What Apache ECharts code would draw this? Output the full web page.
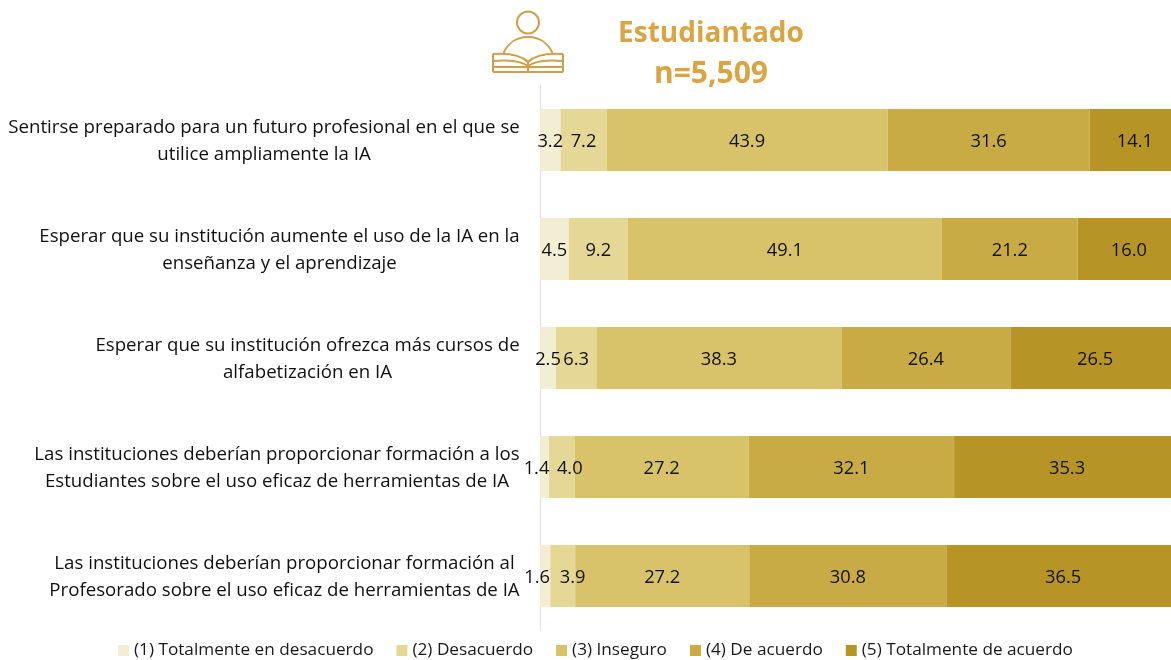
<!DOCTYPE html>
<html><head><meta charset="utf-8">
<style>html,body{margin:0;padding:0;background:#fff}#c{width:1171px;height:660px}</style>
<script src="https://cdn.jsdelivr.net/npm/echarts@6/dist/echarts.min.js"></script>
</head><body><div id="c"></div>
<script>
const categories = [
 "Sentirse preparado para un futuro profesional en el que se\nutilice ampliamente la IA",
 "Esperar que su institución aumente el uso de la IA en la\nenseñanza y el aprendizaje",
 "Esperar que su institución ofrezca más cursos de\nalfabetización en IA",
 "Las instituciones deberían proporcionar formación a los\nEstudiantes sobre el uso eficaz de herramientas de IA",
 "Las instituciones deberían proporcionar formación al\nProfesorado sobre el uso eficaz de herramientas de IA"
];
const seriesNames = ["(1) Totalmente en desacuerdo","(2) Desacuerdo","(3) Inseguro","(4) De acuerdo","(5) Totalmente de acuerdo"];
const s1 = [3.2,4.5,2.5,1.4,1.6];
const s2 = [7.2,9.2,6.3,4.0,3.9];
const s3 = [43.9,49.1,38.3,27.2,27.2];
const s4 = [31.6,21.2,26.4,32.1,30.8];
const s5 = [14.1,16.0,26.5,35.3,36.5];
const values = [s1,s2,s3,s4,s5];
const colors = ["#F2EED3","#E5D897","#D8C36B","#C8AB45","#B69526"];
const FONT = '"Open Sans"';
const gold = "#D9A441", iconC = "#CFA04C";
const CAT_SIZE = 18.67;
// manual nudges of the crowded labels: "series:row" -> dx
const labelNudge = {"0:3":-8,"0:4":-8,"1:3":8,"1:4":10};
const chart = echarts.init(document.getElementById('c'),null,{renderer:'canvas'});
const ctx = document.createElement('canvas').getContext('2d');
ctx.font = CAT_SIZE+'px "Open Sans"';
const rich = {};
categories.forEach((c,i)=>{rich['r'+i]={width:Math.ceil(Math.max(...c.split('\n').map(l=>ctx.measureText(l).width))),align:'center',fontFamily:FONT,fontSize:CAT_SIZE,lineHeight:27,color:'#111'};});
const ist = {fill:'none',stroke:iconC,lineWidth:2};
const curve=(x1,y1,cx1,cy1,cx2,cy2,x2,y2)=>({type:'bezierCurve',silent:true,shape:{x1,y1,cpx1:cx1,cpy1:cy1,cpx2:cx2,cpy2:cy2,x2,y2},style:ist});
const seg=(x1,y1,x2,y2)=>({type:'line',silent:true,shape:{x1,y1,x2,y2},style:ist});
chart.setOption({
 animation:false,
 textStyle:{fontFamily:FONT},
 title:{text:"{a|Estudiantado}\n{b|n=5,509}",left:706,top:9,textAlign:'center',textStyle:{rich:{
   a:{color:gold,fontFamily:FONT,fontWeight:'bold',fontSize:28,lineHeight:40},
   b:{color:gold,fontFamily:FONT,fontWeight:'bold',fontSize:30,lineHeight:40}}}},
 legend:{data:seriesNames,left:113,top:637,itemWidth:11,itemHeight:11,itemGap:23,icon:'rect',textStyle:{fontFamily:FONT,fontSize:17.2,color:'#1a1a1a'}},
 grid:{left:540,right:-9,top:85.5,bottom:29.5,outerBoundsMode:'none'},
 xAxis:{type:'value',min:0,max:100,show:false},
 yAxis:{type:'category',inverse:true,data:categories,
  axisLine:{show:true,lineStyle:{color:'#DEDEDE',width:1}},axisTick:{show:false},
  axisLabel:{margin:20,interval:0,padding:[2,0,0,0],formatter:(v,i)=>v.split('\n').map(l=>`{r${i}|${l}}`).join('\n'),rich}},
 series:seriesNames.map((n,i)=>({name:n,type:'bar',stack:'t',barWidth:62,itemStyle:{color:colors[i]},
   data:values[i].map((v,r)=>({value:v,label:{offset:[labelNudge[i+':'+r]||0,2]}})),
   label:{show:true,position:'inside',formatter:p=>p.value.toFixed(1),fontFamily:FONT,fontSize:18.3,color:'#111'}})),
 graphic:[{type:'group',silent:true,children:[
  {type:'circle',silent:true,shape:{cx:528,cy:22.5,r:11},style:ist},
  curve(503.5,53, 508,43, 517,37, 528,37),
  curve(528,37, 539,37, 548,43, 552.5,53),
  curve(493,54, 507,53, 521,55, 528,62),
  curve(528,62, 535,55, 549,53, 563,54),
  seg(493,54,493,72), seg(563,54,563,72), seg(493,72,563,72),
  curve(493,61, 507,60, 521,61, 528,66),
  curve(528,66, 535,61, 549,60, 563,61),
  seg(493,67,563,67), seg(528,62,528,72)
 ]}]
});
</script></body></html>
